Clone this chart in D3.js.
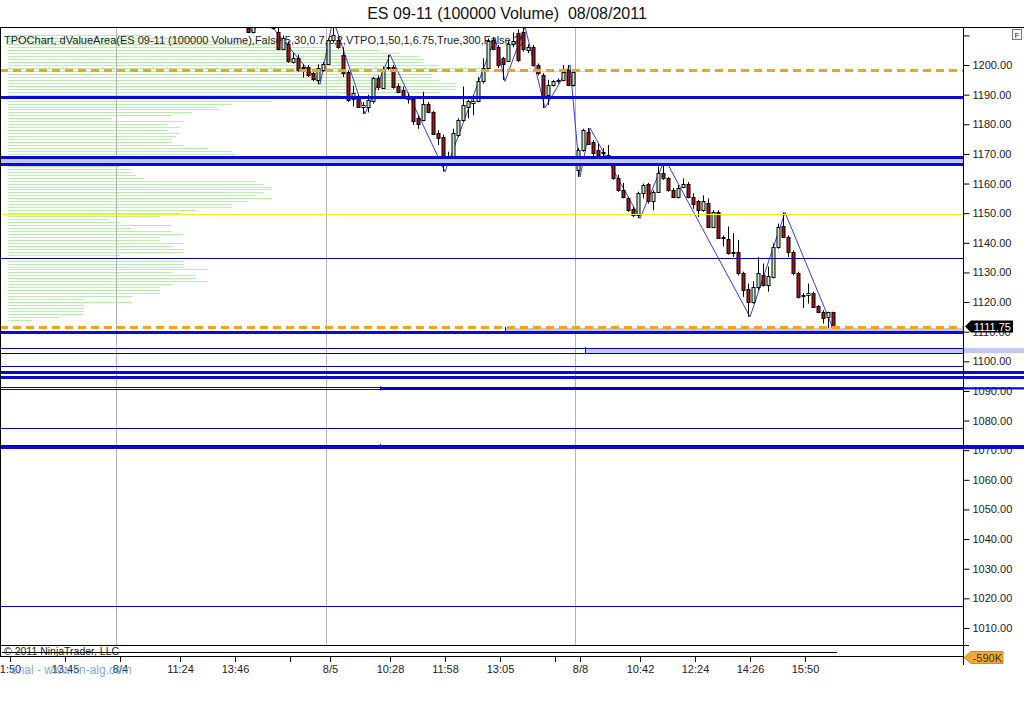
<!DOCTYPE html>
<html><head><meta charset="utf-8">
<script src="https://cdn.jsdelivr.net/npm/d3@7"></script>
<style>
body{margin:0;background:#fff;}
svg{display:block;font-family:Arial,"Liberation Sans",sans-serif;}
</style>
</head><body>
<svg id="c" width="1024" height="703"></svg>
<script>
// ---------------- DATA ----------------
const title = "ES 09-11 (100000 Volume)  08/08/2011";
const indicatorLabel = "TPOChart, dValueArea(ES 09-11 (100000 Volume),False,5,30,0.7,2,2,VTPO,1,50,1,6.75,True,300,False,2)";
const watermark = "onal - www.fin-alg.com";
const copyright = "© 2011 NinjaTrader, LLC";
const lastPrice = 1111.75;
const volumeLabel = "-590K";

// bar index of first visible candle (bars are equal 100000-volume bars)
const firstCandleBar = 48;
// OHLC of consecutive bars
const candles = [
 [1212.5,1214,1210.75,1211.25],[1211.25,1215,1210.75,1214],[1214,1220,1213.5,1218],[1218,1221,1215,1216],
 [1216,1218,1213.25,1214],[1214,1215.5,1212,1212.5],
 [1211.25,1212.5,1205,1205.5],[1205.5,1210,1205,1209],[1207.25,1208,1200.75,1201.25],[1201,1204,1200.5,1202.5],
 [1202.25,1203.5,1197.75,1198.25],[1199,1200.25,1195.75,1199.5],[1199.5,1200,1196,1196.5],[1197.25,1197.75,1194.5,1195.25],
 [1195,1200.25,1193.5,1199],[1198.25,1201,1197.75,1200.25],[1200.5,1209,1200,1208.5],[1208.5,1214,1207.5,1210],
 [1208.5,1209.5,1205.5,1206.25],[1203.5,1206,1196,1197.25],
 [1197.75,1198.25,1187.5,1188.25],[1188.5,1193,1186,1190.5],[1189.25,1190,1185.5,1186],[1186,1187.5,1183.5,1186.5],
 [1186,1190,1184,1188.25],[1187.75,1196,1187,1195.5],[1195.5,1196.5,1191.5,1192.75],[1192.25,1199.5,1192,1198.75],
 [1199,1203.5,1198.25,1199.5],[1199.5,1200,1192,1192.75],[1193,1193.75,1190.5,1191],[1191.5,1192.75,1188.75,1189.25],
 [1189.25,1190.5,1187,1188.5],[1188.5,1189.5,1179.75,1181],[1182,1183,1178.5,1180.25],[1181.5,1191,1181,1187],
 [1186.75,1187.5,1183.75,1184.25],[1184,1184.5,1176.5,1176.75],[1177,1178,1173,1175.25],[1175.75,1176.5,1164,1166.25],
 [1166.75,1170.75,1166.25,1169],[1168.5,1178.5,1168,1177],[1176.5,1182,1175.75,1181.5],[1181.5,1192.75,1181,1186.5],
 [1186,1188.25,1182,1187.75],[1187.25,1189.75,1183,1187.75],[1187.75,1196,1187.5,1194.5],[1194.5,1202.25,1193.75,1199],
 [1199,1209,1198.25,1208],[1208.5,1209.5,1205,1205.5],[1206.25,1206.75,1199,1200],[1202.25,1202.75,1195,1200.25],
 [1201.5,1208.25,1201,1207.25],[1207,1211,1206,1208],[1210.75,1212,1201,1201.75],[1211.25,1213,1204.5,1205.5],
 [1205,1207,1204,1206.25],[1206.25,1206.75,1199.5,1200],[1200,1200.5,1196.5,1197.25],[1196.5,1197.25,1185.5,1188.75],
 [1190,1195,1186.5,1193.25],[1193.25,1195,1192.75,1194.5],[1194.5,1195.5,1193.75,1195],[1195,1200,1194.5,1197.75],
 [1198.25,1200,1193,1193.25],[1193.25,1198.25,1192.75,1197.75],[1164.5,1172,1162.25,1171.25],[1171.25,1178.5,1170.75,1178],
 [1177.5,1178.75,1173,1173.5],[1174,1174.75,1168,1170.25],[1171.25,1173.5,1166.75,1169.5],[1170.75,1172,1167.5,1170.25],
 [1169.5,1173,1167.5,1168],[1168.5,1169,1161.25,1161.75],[1161.75,1163,1157.25,1157.75],[1157.75,1160.25,1155,1155.5],
 [1155,1155.5,1150.5,1151],[1151.5,1152.25,1148.75,1149.5],[1149.5,1157.25,1148.25,1156.75],[1156.75,1160,1155,1159.5],
 [1159.75,1160.25,1153.25,1154],[1154,1157.75,1151,1157.25],[1157.25,1165.75,1157,1163.5],[1163.5,1168.25,1161.25,1161.75],
 [1161.75,1162.25,1157.25,1157.75],[1157.75,1158.5,1155.25,1155.5],[1155.5,1159.5,1155,1158.5],[1158.75,1161.75,1158.5,1159.75],
 [1160,1160.5,1155,1155.5],[1155.5,1156.75,1151.5,1153.25],[1154,1154.5,1148.75,1151],[1151,1156,1150.5,1154],
 [1153.5,1155,1145,1145.5],[1145.5,1151,1145,1150.5],[1150.5,1151,1141.5,1141.75],[1142,1142.5,1138.75,1141.5],
 [1141.25,1145.5,1136,1136.5],[1137,1143.25,1135.25,1136.5],[1136.75,1141,1129,1129.75],[1129.75,1130.25,1121.75,1124],
 [1124.5,1126.25,1115,1120],[1120,1127,1119.5,1125.25],[1125.25,1135.25,1124,1129.75],[1129,1133,1125.25,1125.75],
 [1125.75,1132,1123.5,1128.75],[1128.5,1139.75,1128,1138.75],[1138.75,1146.5,1138,1145.5],[1145.75,1150.25,1141.75,1142],
 [1142,1142.5,1135.25,1137],[1137,1137.5,1129,1129.75],[1129.75,1130.25,1121.25,1121.75],[1122.25,1123,1118,1122],
 [1122.5,1126.25,1119.5,1123],[1123,1123.5,1118,1118.5],[1118.75,1119,1116.25,1116.75],[1116.75,1117.25,1112.75,1114.5],
 [1115,1116.75,1110.5,1116.5],[1116.75,1116.75,1109.5,1111.75]
];

// zigzag swing points [bar, price]
const zigzag = [
 [47.2,1214.5],[48.6,1210.75],[50.4,1217],[62,1193.5],[64.6,1215.5],[71,1183.5],[76,1203.5],[87,1164],
 [97,1209.25],[99,1194.5],[103,1213],[107,1185.5],[112,1200],[114,1162.25],[116,1178.75],[126,1148.25],
 [131,1168.25],[148,1115],[155,1150.25],[165,1109.5]
];

// TPO / volume profile: top price and counts per 1-point row (descending)
const profileTop = 1210;
const profileCounts = [
 36,48,60,68,80,93,98,103,104,104,108,118,146,106,106,108,112,112,112,108,
 83,60,66,56,52,53,46,41,26,44,40,43,40,43,42,41,41,44,50,56,
 57,58,58,44,28,31,31,32,34,62,64,66,66,64,62,66,60,56,56,47,
 43,38,25,28,41,31,41,44,38,38,44,41,44,44,28,35,44,44,44,50,
 41,47,47,50,41,38,38,38,31,19,31,19,19,19,19,13,6
];

// horizontal levels [price, kind, startBar(null = chart start), extendsIntoAxis]
const levels = [
 [1198.25,'dash',null,false],
 [1189.25,'thick',null,false],
 [1169,'thick',null,false],
 [1166.5,'thick',null,false],
 [1149.75,'yellow',null,false],
 [1135,'thin',null,false],
 [1111.5,'dash',null,false],
 [1110,'thick',null,false],
 [1104.5,'thin',null,false],
 [1102.75,'thin',null,false],
 [1098.25,'thin',null,false],
 [1096.25,'thick',null,true],
 [1094.75,'thick',null,true],
 [1091.25,'thin',null,false],
 [1090.5,'thin',null,false],
 [1077.5,'thin',null,false],
 [1071.75,'thin',null,false],
 [1071,'thick',null,true],
 [1017.5,'thin',null,false]
];
// shaded bands [priceHigh, priceLow, startBar, kind, extendsIntoAxis]
const bands = [
 [1169,1166.5,null,'light',false],
 [1111.25,1110,99,'light',false],
 [1104.5,1102.75,115,'light',true],
 [1091.25,1090.5,74,'dark',true],
 [1071.75,1071,74,'dark',true]
];

// session breaks (bar index)
const sessionBreaks = [21.2, 63.2, 113];

// x-axis ticks: bar index and label
const xTickBars   = [0, 11, 22, 34, 45, 56, 64, 76, 87, 98, 109, 114, 126, 137, 148, 159];
const xTickLabels = ["1:50","13:45","8/4","11:24","13:46","","8/5","10:28","11:58","13:05","","8/8","10:42","12:24","14:26","15:50"];

// y-axis ticks
const yTicks = d3.range(1010, 1211, 10);

// ---------------- DRAW ----------------
const svg = d3.select("#c");
const P = {left: 1, right: 963, top: 28, bottom: 645};
const y = d3.scaleLinear().domain([1004.25, 1212.5]).range([P.bottom, P.top]);
const x = d3.scaleLinear().domain([0, 165]).range([10, 835]);
const prof = d3.scaleLinear().domain([0, 100]).range([8, 408]);

svg.append("rect").attr("width",1024).attr("height",703).attr("fill","#fff");

const defs = svg.append("defs");
defs.append("clipPath").attr("id","plot").append("rect")
  .attr("x",P.left).attr("y",P.top).attr("width",P.right-P.left).attr("height",P.bottom-P.top);
defs.append("clipPath").attr("id","plotExt").append("rect")
  .attr("x",P.left).attr("y",P.top).attr("width",1024-P.left).attr("height",P.bottom-P.top);

// title
svg.append("text").attr("x",507).attr("y",19).attr("text-anchor","middle")
  .style("white-space","pre")
  .attr("font-size",16).attr("fill","#111").text(title);

const g = svg.append("g").attr("clip-path","url(#plot)");

// profile rows
const profRows = profileCounts.map((c,i)=>({price: profileTop - i, count: c}));
g.append("g").selectAll("line").data(profRows).join("line")
  .attr("x1", prof(0)).attr("x2", d=>prof(d.count))
  .attr("y1", d=>Math.round(y(d.price))+0.5).attr("y2", d=>Math.round(y(d.price))+0.5)
  .attr("stroke","#b6eeaa").attr("stroke-width",1);

// session separators
g.append("g").selectAll("line").data(sessionBreaks).join("line")
  .attr("x1", d=>Math.round(x(d))+0.5).attr("x2", d=>Math.round(x(d))+0.5)
  .attr("y1", P.top).attr("y2", P.bottom)
  .attr("stroke","#b4b4b4").attr("stroke-width",1);

// y axis
const yAxis = d3.axisRight(y).tickValues(yTicks).tickSize(6)
  .tickFormat(d => d === 1210 ? "" : d.toFixed(2));
const ya = svg.append("g").attr("transform",`translate(${P.right+0.5},0)`).call(yAxis);
ya.select(".domain").remove();
ya.selectAll("line").attr("stroke","#000");
ya.selectAll("text").attr("font-size",11).attr("fill","#222").attr("font-family","Arial, 'Liberation Sans', sans-serif").attr("x",9);

// bands
const bandColor = {light:"#c3c7f3", dark:"#0a0ad6"};
const bandsG = svg.append("g");
bands.forEach(b=>{
  const x0 = b[2]===null ? P.left : x(b[2]);
  const x1 = b[4] ? 1024 : P.right;
  bandsG.append("rect").attr("x", x0).attr("width", x1-x0)
    .attr("y", y(b[0])).attr("height", y(b[1])-y(b[0]))
    .attr("fill", bandColor[b[3]])
    .attr("clip-path", b[4] ? "url(#plotExt)" : "url(#plot)");
  if (b[2]!==null) {
    bandsG.append("line").attr("x1",Math.round(x0)+0.5).attr("x2",Math.round(x0)+0.5)
      .attr("y1",y(b[0])-1).attr("y2",y(b[1])+1).attr("stroke","#0a0ad6").attr("stroke-width",1);
  }
});

// levels
const levelStyle = {
  dash:  {stroke:"#f2a31e", w:3, dash:"8,5"},
  thick: {stroke:"#0a0ad6", w:3, dash:null},
  thin:  {stroke:"#0000a8", w:1, dash:null},
  yellow:{stroke:"#f4ee1c", w:1, dash:null}
};
const levG = svg.append("g");
levels.forEach(l=>{
  const s = levelStyle[l[1]];
  const yy = s.w % 2 ? Math.round(y(l[0]))+0.5 : Math.round(y(l[0]));
  const x0 = l[2]===null ? 0 : x(l[2]);
  levG.append("line").attr("x1",x0).attr("x2", l[3] ? 1024 : P.right)
    .attr("y1",yy).attr("y2",yy)
    .attr("stroke",s.stroke).attr("stroke-width",s.w)
    .attr("stroke-dasharray",s.dash);
});

// indicator label
g.append("text").attr("x",4).attr("y",44).attr("font-size",11).attr("fill","#222").text(indicatorLabel);

// zigzag
g.append("path").datum(zigzag)
  .attr("d", d3.line().x(d=>x(d[0])).y(d=>y(d[1])))
  .attr("fill","none").attr("stroke","#3a3ad0").attr("stroke-width",1);

// candles
const cd = candles.map((c,i)=>({bar:firstCandleBar+i, o:c[0], h:c[1], l:c[2], c:c[3]}));
const cg = g.append("g").selectAll("g").data(cd).join("g");
cg.append("line")
  .attr("x1", d=>Math.round(x(d.bar))-1.5).attr("x2", d=>Math.round(x(d.bar))-1.5)
  .attr("y1", d=>y(d.h)).attr("y2", d=>y(d.l))
  .attr("stroke","#000").attr("stroke-width",1);
cg.append("rect")
  .attr("x", d=>Math.round(x(d.bar))-3.5).attr("width",4)
  .attr("y", d=>Math.round(y(Math.max(d.o,d.c)))+0.5)
  .attr("height", d=>Math.max(1, Math.round(y(Math.min(d.o,d.c))) - Math.round(y(Math.max(d.o,d.c)))))
  .attr("fill", d=> d.c>=d.o ? "#c2ebc2" : "#a8141a")
  .attr("stroke","#000").attr("stroke-width",1)
  .attr("transform","translate(0.5,0)")
  .attr("width",3);

// frames
const frame = svg.append("g").attr("stroke","#000").attr("stroke-width",1);
frame.append("line").attr("x1",0).attr("x2",1024).attr("y1",27.5).attr("y2",27.5);
frame.append("line").attr("x1",0.5).attr("x2",0.5).attr("y1",27).attr("y2",657);
frame.append("line").attr("x1",0).attr("x2",P.right).attr("y1",645.5).attr("y2",645.5);
frame.append("line").attr("x1",0).attr("x2",P.right).attr("y1",656.5).attr("y2",656.5);
frame.append("line").attr("x1",P.right+0.5).attr("x2",P.right+0.5).attr("y1",27).attr("y2",665);
frame.append("line").attr("x1",P.right).attr("x2",P.right+6).attr("y1",645.5).attr("y2",645.5);

// F button
svg.append("rect").attr("x",1012.5).attr("y",29.5).attr("width",9).attr("height",10)
  .attr("fill","#fff").attr("stroke","#777");
svg.append("text").attr("x",1017).attr("y",37.5).attr("text-anchor","middle").attr("font-size",8).attr("fill","#222").text("F");

// volume panel
svg.append("text").attr("x",4).attr("y",655).attr("font-size",10.5).attr("fill","#222").text(copyright);
svg.append("line").attr("x1",2).attr("x2",x(165)+2).attr("y1",652.5).attr("y2",652.5)
  .attr("stroke","#000").attr("stroke-width",1);

// x axis
const xAxis = d3.axisBottom(x).tickValues(xTickBars).tickSize(5)
  .tickFormat((d,i)=>xTickLabels[i]);
const xa = svg.append("g").attr("transform","translate(0,657)").call(xAxis);
xa.select(".domain").remove();
xa.selectAll("line").attr("stroke","#000");
xa.selectAll("text").attr("font-size",11).attr("fill","#222").attr("font-family","Arial, 'Liberation Sans', sans-serif");

// watermark
svg.append("text").attr("x",11).attr("y",674).attr("font-size",12)
  .attr("fill","#6f9fd4").attr("fill-opacity",0.9).text(watermark);

// last price marker
const ly = y(lastPrice);
svg.append("path").attr("d",`M${P.right+2},${ly} L${P.right+8},${ly-6} L1013,${ly-6} L1013,${ly+6} L${P.right+8},${ly+6} Z`)
  .attr("fill","#000");
svg.append("text").attr("x",1011).attr("y",ly+4).attr("text-anchor","end").attr("font-size",11)
  .attr("fill","#fff").text(lastPrice.toFixed(2));

// volume marker
const vy = 657.5;
svg.append("path").attr("d",`M${P.right+1},${vy} L${P.right+8},${vy-6} L1003,${vy-6} L1003,${vy+6} L${P.right+8},${vy+6} Z`)
  .attr("fill","#f4a832").attr("stroke","#c07a10").attr("stroke-width",0.8);
svg.append("text").attr("x",1002).attr("y",vy+4).attr("text-anchor","end").attr("font-size",11)
  .attr("fill","#333").text(volumeLabel);
</script>
</body></html>
